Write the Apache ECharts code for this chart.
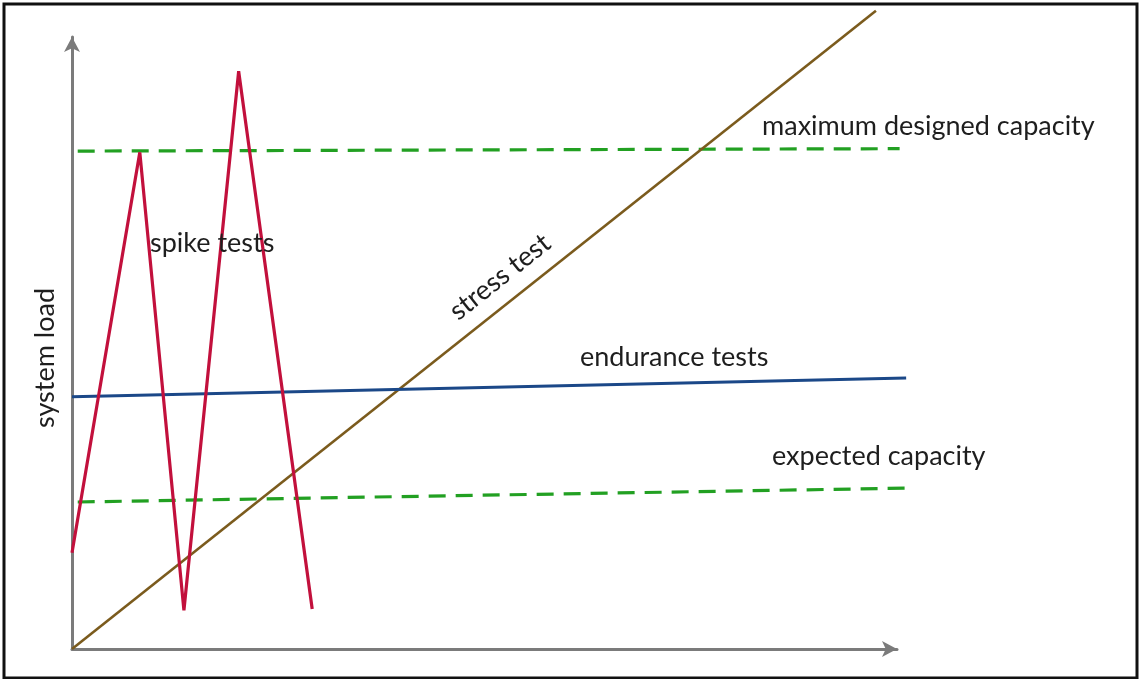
<!DOCTYPE html>
<html>
<head>
<meta charset="utf-8">
<script src="https://cdn.jsdelivr.net/npm/echarts@6/dist/echarts.min.js"></script>
<style>
  html, body { margin: 0; padding: 0; background: #fff; }
  #chart { width: 1141px; height: 679px; }
</style>
</head>
<body>
<div id="chart"></div>
<script>
// Load-test profiles: x = elapsed time, y = system load (relative units)
const stressTest = [[0, 0], [98.4, 105.5]];
const spikeTests = [[0, 15.9], [8.3, 82.1], [13.7, 6.4], [20.4, 95.5], [29.4, 6.6]];
const enduranceTests = [[0, 41.7], [102.1, 44.8]];
const maxDesignedCapacity = [[0.7, 82.3], [101.3, 82.7]];
const expectedCapacity = [[0.7, 24.3], [102.6, 26.6]];

const yAxisName = 'system load';
const labels = {
  maxCap: 'maximum designed capacity',
  spike: 'spike tests',
  stress: 'stress test',
  endurance: 'endurance tests',
  expected: 'expected capacity'
};

const FONT = 'Lato, "Open Sans", sans-serif';
const FONT_SIZE = 27;
const TEXT = '#1e1e1e';
const axisColor = '#7b7b7b';

// Data scale: 100 units span 817 px horizontally and 605 px vertically,
// measured from the origin at (72, 649). The data grid reaches further right
// so that lines may overshoot the axis arrows.
const LEFT = 72, BOTTOM = 30, TOP = 44;
const PLOT_W = 817;
const DATA_MAX_X = 110;
const DATA_RIGHT = 1141 - LEFT - PLOT_W * DATA_MAX_X / 100;
// Arrow axes: their tips sit slightly beyond the 100-unit marks
const AXIS_RIGHT = 244, AXIS_TOP = 37;

const chart = echarts.init(document.getElementById('chart'), null, { renderer: 'canvas' });

function lineSeries(name, data, color, width, dash) {
  return {
    name, type: 'line', data,
    xAxisIndex: 1, yAxisIndex: 1,
    showSymbol: false, symbol: 'none', clip: false, silent: true,
    animation: false,
    lineStyle: { color, width, type: dash || 'solid', cap: 'butt' },
    z: 3
  };
}

const hiddenAxis = {
  axisLine: { show: false }, axisTick: { show: false },
  axisLabel: { show: false }, splitLine: { show: false }
};

function arrowAxis() {
  return {
    type: 'value', min: 0, max: 100, gridIndex: 0,
    axisLine: { show: true, symbol: ['none', 'arrow'], symbolSize: [12, 15],
      lineStyle: { color: axisColor, width: 3 } },
    axisTick: { show: false }, axisLabel: { show: false }, splitLine: { show: false }
  };
}

function textEl(text, x, y, extra) {
  return Object.assign({
    type: 'text', x, y, z: 5,
    style: { text, font: FONT_SIZE + 'px ' + FONT, fill: TEXT, align: 'left', verticalAlign: 'middle' }
  }, extra || {});
}

function centeredText(text, x, y, rotation) {
  return {
    type: 'text', x, y, z: 5, rotation,
    style: { text, font: FONT_SIZE + 'px ' + FONT, fill: TEXT, align: 'center', verticalAlign: 'middle' }
  };
}

chart.setOption({
  backgroundColor: '#fff',
  animation: false,
  grid: [
    { left: LEFT, right: AXIS_RIGHT, top: AXIS_TOP, bottom: BOTTOM },
    { left: LEFT, right: DATA_RIGHT, top: TOP, bottom: BOTTOM }
  ],
  xAxis: [
    arrowAxis(),
    Object.assign({ type: 'value', min: 0, max: DATA_MAX_X, gridIndex: 1 }, hiddenAxis)
  ],
  yAxis: [
    arrowAxis(),
    Object.assign({ type: 'value', min: 0, max: 100, gridIndex: 1 }, hiddenAxis)
  ],
  series: [
    lineSeries('maximum designed capacity', maxDesignedCapacity, '#22a022', 3.2, [17, 10]),
    lineSeries('expected capacity', expectedCapacity, '#22a022', 3.2, [17, 10]),
    lineSeries('stress test', stressTest, '#7b5b1d', 2.6),
    lineSeries('endurance tests', enduranceTests, '#1b4888', 3),
    lineSeries('spike tests', spikeTests, '#c2103c', 3.2)
  ],
  graphic: [
    { type: 'rect', shape: { x: 4, y: 4, width: 1133, height: 674 },
      style: { fill: 'none', stroke: '#111', lineWidth: 3 }, z: 10 },
    centeredText(yAxisName, 45, 358, Math.PI / 2),
    textEl(labels.maxCap, 762, 126),
    textEl(labels.spike, 150, 243),
    centeredText(labels.stress, 500, 277, 38.4 * Math.PI / 180),
    textEl(labels.endurance, 580, 357),
    textEl(labels.expected, 772, 456)
  ]
});
</script>
</body>
</html>
